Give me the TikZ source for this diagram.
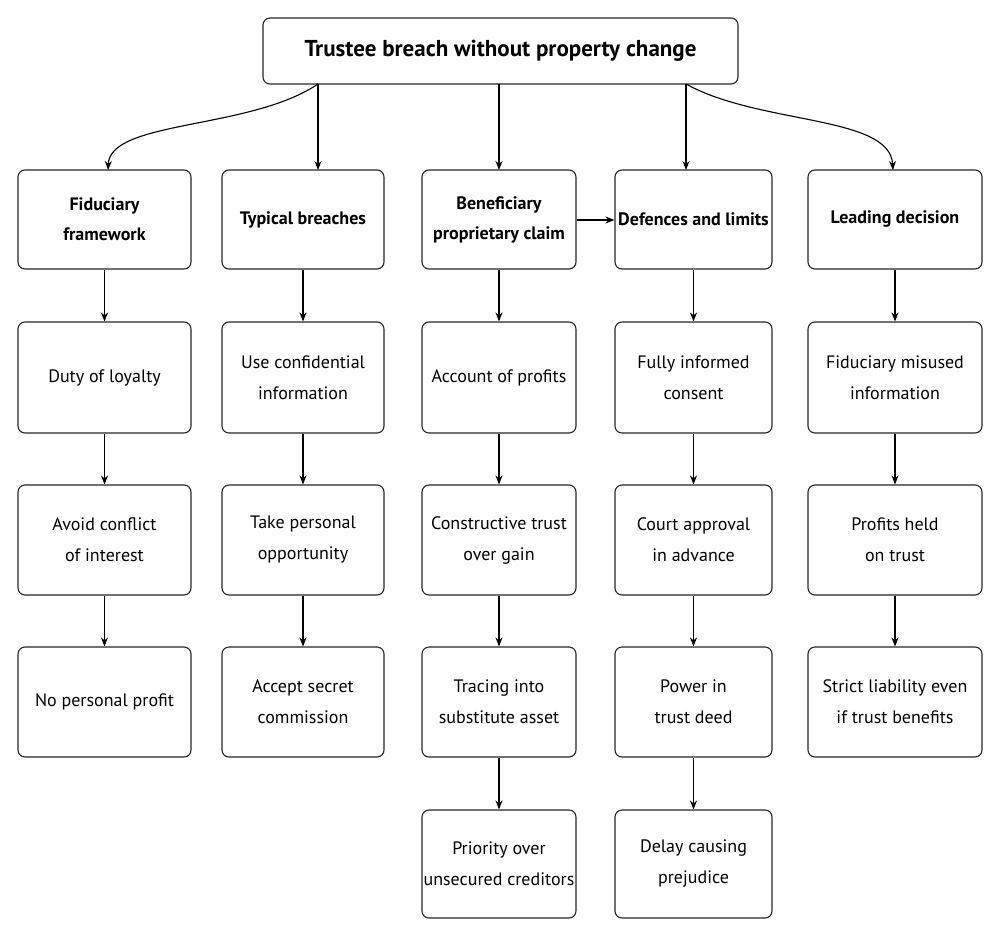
\documentclass[tikz,border=0pt]{standalone}
\usepackage{fontspec}
\setmainfont{PT Sans}
\usetikzlibrary{arrows.meta}
\begin{document}
\begin{tikzpicture}[x=1pt,y=-1pt,
  box/.style={draw=black!85,line width=1.1pt,rounded corners=7pt,align=center,font=\fontsize{18}{31}\selectfont,inner sep=0pt},
  head/.style={box,font=\bfseries\fontsize{18}{30}\selectfont},
  arr/.style={-{Stealth[length=9pt,width=7pt]},line width=1.1pt}]
\useasboundingbox (0,0) rectangle (999,937);
\node[box,font=\bfseries\fontsize{23}{28}\selectfont,minimum width=475pt,minimum height=66pt] (t) at (500.5,51) {Trustee breach without property change};
% headers
\node[head,minimum width=173pt,minimum height=99pt] (a1) at (104.5,219.5) {Fiduciary\\framework};
\node[head,minimum width=162pt,minimum height=99pt] (b1) at (303,219.5) {Typical breaches};
\node[head,minimum width=154pt,minimum height=99pt] (c1) at (499,219.5) {Beneficiary\\proprietary claim};
\node[head,minimum width=157pt,minimum height=99pt] (d1) at (693.5,219.5) {Defences and limits};
\node[head,minimum width=174pt,minimum height=99pt] (e1) at (895,219.5) {Leading decision};
% rows
\foreach \n/\x/\w/\ta/\tb/\tc in {
 a/104.5/173/{Duty of loyalty}/{Avoid conflict\\of interest}/{No personal profit},
 b/303/162/{Use confidential\\information}/{Take personal\\opportunity}/{Accept secret\\commission},
 c/499/154/{Account of profits}/{Constructive trust\\over gain}/{Tracing into\\substitute asset},
 d/693.5/157/{Fully informed\\consent}/{Court approval\\in advance}/{Power in\\trust deed},
 e/895/174/{Fiduciary misused\\information}/{Profits held\\on trust}/{Strict liability even\\if trust benefits}}{
  \node[box,minimum width=\w pt,minimum height=111pt] (\n2) at (\x,377.5) {\ta};
  \node[box,minimum width=\w pt,minimum height=110pt] (\n3) at (\x,540) {\tb};
  \node[box,minimum width=\w pt,minimum height=110pt] (\n4) at (\x,702) {\tc};
  \draw[arr] (\n1) -- (\n2);
  \draw[arr] (\n2) -- (\n3);
  \draw[arr] (\n3) -- (\n4);
}
\node[box,minimum width=154pt,minimum height=108pt] (c5) at (499,864) {Priority over\\unsecured creditors};
\node[box,minimum width=157pt,minimum height=108pt] (d5) at (693.5,864) {Delay causing\\prejudice};
\draw[arr] (c4) -- (c5);
\draw[arr] (d4) -- (d5);
% title arrows
\draw[arr] (318,84) .. controls (250,130) and (110,120) .. (108,170);
\draw[arr] (318,84) -- (318,170);
\draw[arr] (499,84) -- (499,170);
\draw[arr] (686,84) -- (686,170);
\draw[arr] (686,84) .. controls (760,125) and (890,115) .. (893,170);
\draw[arr] (c1.east |- 0,220) -- (d1.west |- 0,220);
\end{tikzpicture}
\end{document}
